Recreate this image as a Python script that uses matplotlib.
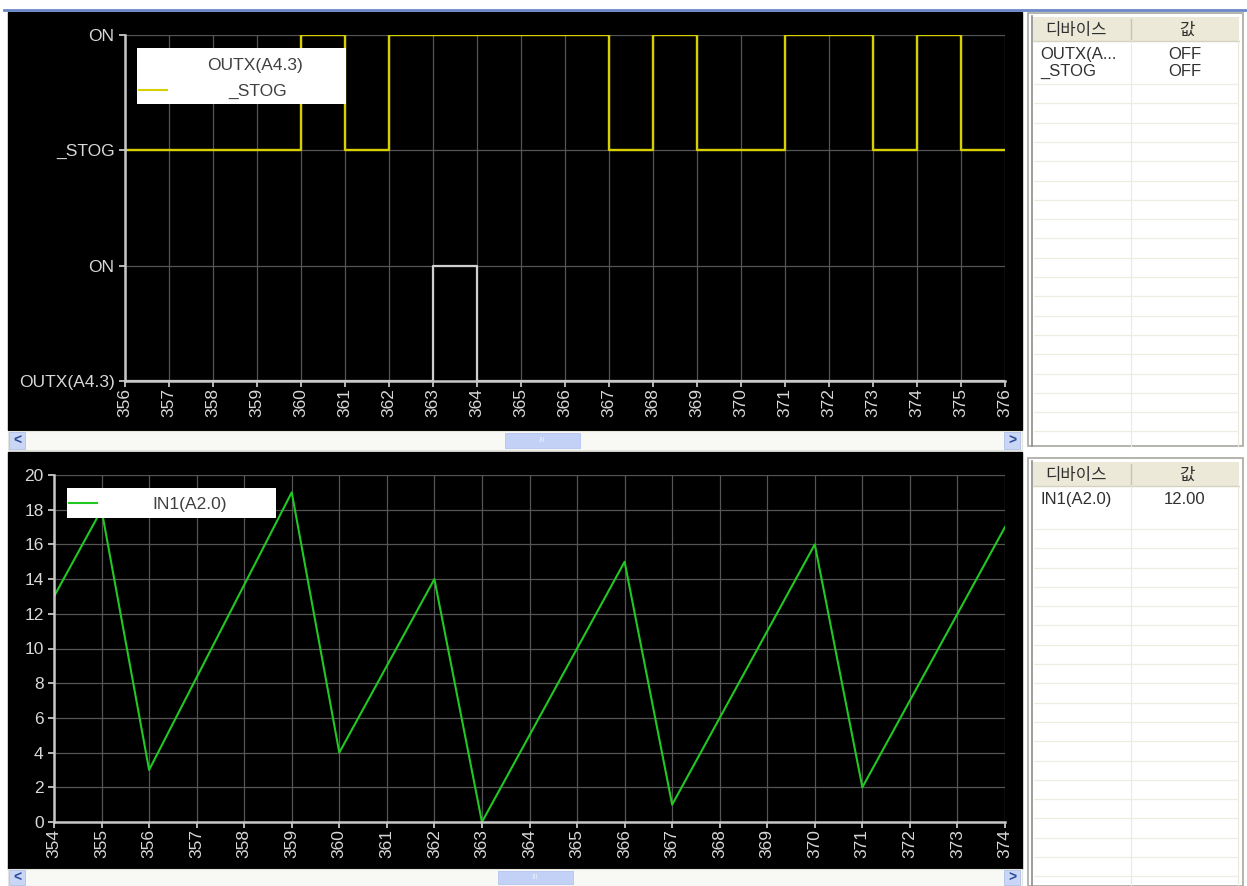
import matplotlib
matplotlib.use("Agg")
import matplotlib.pyplot as plt
from matplotlib.patches import Rectangle

plt.rcParams['font.family'] = ['Liberation Sans', 'Noto Sans CJK KR', 'DejaVu Sans']

# =========================
# DATA
# =========================
# top monitor: bit signals (step, state held until next time)
stog_times = [356, 360, 361, 362, 367, 368, 369, 371, 373, 374, 375, 376]
stog_state = [0, 1, 0, 1, 0, 1, 0, 1, 0, 1, 0, 0]
outx_times = [356, 363, 364, 376]
outx_state = [0, 1, 0, 0]
top_ticks = list(range(356, 377))
top_levels = [0, 1, 2, 3]
top_level_labels = ["OUTX(A4.3)", "ON", "_STOG", "ON"]

# bottom monitor: word value
in1_times = [354, 355, 356, 359, 360, 362, 363, 366, 367, 370, 371, 374]
in1_values = [13, 18, 3, 19, 4, 14, 0, 15, 1, 16, 2, 17]
bottom_ticks = list(range(354, 375))
bottom_yticks = list(range(0, 21, 2))

# device tables
top_devices = ["OUTX(A...", "_STOG"]
top_device_values = ["OFF", "OFF"]
bottom_devices = ["IN1(A2.0)"]
bottom_device_values = ["12.00"]

W, H = 1247, 886
YELLOW = "#d8cf00"
GREEN = "#22c822"
GRAY_SIG = "#cfcfcf"
GRID = "#555555"
SPINE = "#c8c8c8"
TXT = "#d8d8d8"


def box(x0, y0, x1, y1):
    return [x0 / W, 1 - y1 / H, (x1 - x0) / W, (y1 - y0) / H]


fig = plt.figure(figsize=(W / 100, H / 100), dpi=100, facecolor="white")

# =========================
# WINDOW CHROME (pixel space)
# =========================
bg = fig.add_axes([0, 0, 1, 1], zorder=0)
bg.set_xlim(0, W)
bg.set_ylim(H, 0)
bg.axis("off")

bg.plot([4, W], [10, 10], color="#6a88c8", lw=2)
bg.add_patch(Rectangle((8, 12), 1014, 418, color="black"))
bg.add_patch(Rectangle((8, 452), 1014, 417, color="black"))


def scrollbar(y0, y1, thumb_x):
    bg.add_patch(Rectangle((8, y0), 1014, y1 - y0, facecolor="#f8f8f4", edgecolor="#e4e4dc", lw=0.8))
    bg.add_patch(Rectangle((9, y0 + 1), 16, y1 - y0 - 2, facecolor="#c9d6f6", edgecolor="#b0c0e8", lw=0.6))
    bg.add_patch(Rectangle((1004, y0 + 1), 16, y1 - y0 - 2, facecolor="#c9d6f6", edgecolor="#b0c0e8", lw=0.6))
    bg.text(17, (y0 + y1) / 2, "<", color="#2a4a9a", fontsize=10, fontweight="bold", ha="center", va="center")
    bg.text(1012, (y0 + y1) / 2, ">", color="#2a4a9a", fontsize=10, fontweight="bold", ha="center", va="center")
    bg.add_patch(Rectangle((thumb_x, y0 + 2), 75, y1 - y0 - 4, facecolor="#c3d1f7", edgecolor="#b4c4ee", lw=0.6))
    bg.text(thumb_x + 37, (y0 + y1) / 2, "III", color="#e8eefc", fontsize=6, ha="center", va="center")


scrollbar(431, 450, 505)
scrollbar(869, 886, 498)


def device_table(y0, y1, names, values):
    bg.add_patch(Rectangle((1028, y0), 215, y1 - y0, facecolor="white", edgecolor="#a8a8a0", lw=1.2))
    bg.plot([1032, 1032], [y0 + 3, y1], color="#8c8c8c", lw=1.2)
    bg.add_patch(Rectangle((1033, y0 + 4), 206, 24, facecolor="#ece9d8", edgecolor="none"))
    bg.plot([1033, 1239], [y0 + 28, y0 + 28], color="#d6d2c0", lw=1.0)
    bg.plot([1131, 1131], [y0 + 6, y0 + 26], color="#c8c4b0", lw=1.0)
    bg.plot([1131, 1131], [y0 + 28, y1], color="#ece9d8", lw=0.8)
    bg.plot([1238, 1238], [y0 + 6, y1], color="#ece9d8", lw=0.8)
    bg.text(1076, y0 + 17, "디바이스", color="#303030", fontsize=12, ha="center", va="center")
    bg.text(1187, y0 + 17, "값", color="#303030", fontsize=12, ha="center", va="center")
    yy = y0 + 71
    while yy < y1 - 2:
        bg.plot([1034, 1238], [yy, yy], color="#efece0", lw=0.9)
        yy += 19.3
    for i, (n, v) in enumerate(zip(names, values)):
        ty = y0 + 41 + i * 17
        bg.text(1040, ty, n, color="#303030", fontsize=12, ha="left", va="center")
        bg.text(1185, ty, v, color="#303030", fontsize=12, ha="center", va="center")


device_table(13, 446, top_devices, top_device_values)
device_table(458, 886, bottom_devices, bottom_device_values)


def style_axes(ax):
    ax.set_facecolor("black")
    for s in ["top", "right"]:
        ax.spines[s].set_visible(False)
    for s in ["left", "bottom"]:
        ax.spines[s].set_color(SPINE)
        ax.spines[s].set_linewidth(1.8)
    ax.grid(True, color=GRID, lw=0.9)
    ax.set_axisbelow(True)
    ax.tick_params(colors=TXT, labelsize=12.5, length=4, width=1.2)
    ax.tick_params(axis="x", labelrotation=90, pad=1)


# =========================
# TOP PLOT: BIT SIGNALS
# =========================
ax1 = fig.add_axes(box(125, 35, 1005, 381), zorder=1)
style_axes(ax1)
ax1.plot(stog_times, [2 + s for s in stog_state], drawstyle="steps-post", color=YELLOW, lw=1.7)
ax1.plot(outx_times, outx_state, drawstyle="steps-post", color=GRAY_SIG, lw=1.6)
ax1.set_xlim(356, 376)
ax1.set_ylim(0, 3)
ax1.set_xticks(top_ticks)
ax1.set_yticks(top_levels)
ax1.set_yticklabels(top_level_labels)
for lbl in ax1.get_xticklabels():
    lbl.set_va("top")

# =========================
# BOTTOM PLOT: WORD VALUE
# =========================
ax2 = fig.add_axes(box(54, 475, 1005, 822), zorder=1)
style_axes(ax2)
ax2.plot(in1_times, in1_values, color=GREEN, lw=1.5)
ax2.set_xlim(354, 374)
ax2.set_ylim(0, 20)
ax2.set_xticks(bottom_ticks)
ax2.set_yticks(bottom_yticks)

# =========================
# LEGENDS (pixel space overlay)
# =========================
ov = fig.add_axes([0, 0, 1, 1], zorder=3)
ov.set_xlim(0, W)
ov.set_ylim(H, 0)
ov.axis("off")
ov.patch.set_alpha(0)

ov.add_patch(Rectangle((137, 48), 209, 56, facecolor="white", edgecolor="none"))
ov.text(255, 65, "OUTX(A4.3)", color="#404040", fontsize=12.5, ha="center", va="center")
ov.plot([139, 167], [90, 90], color=YELLOW, lw=1.5)
ov.text(258, 91, "_STOG", color="#404040", fontsize=12.5, ha="center", va="center")

ov.add_patch(Rectangle((67, 488), 209, 30, facecolor="white", edgecolor="none"))
ov.plot([69, 97], [503, 503], color=GREEN, lw=1.5)
ov.text(190, 504, "IN1(A2.0)", color="#404040", fontsize=12.5, ha="center", va="center")

fig.savefig("out.png", dpi=100, facecolor="white")
